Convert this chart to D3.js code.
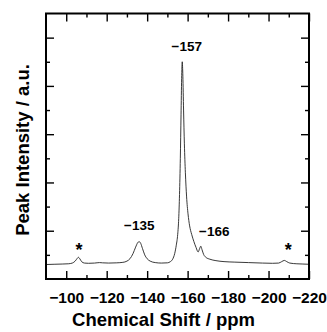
<head>
    <meta charset="utf-8">
    <script src="https://d3js.org/d3.v7.min.js"></script>
    <style>
        body {
            margin: 0;
            background: #fff;
        }
        svg text {
            font-family: "Liberation Sans", Arial, sans-serif;
            font-weight: bold;
            fill: #000;
        }
    </style>
</head>

<body>

<svg width="327" height="332"></svg>

<script>

    // spectrum: chemical shift (ppm) and intensity (a.u.)
    var shifts = [
        -90, -94, -98, -101, -103, -104.5, -105.4, -106, -106.7, -107.6,
        -109, -111, -114, -116.5, -118, -121, -125, -128, -130, -131.5,
        -133, -134.3, -135.3, -136, -136.8, -137.7, -138.8, -140, -141.5, -144,
        -147, -150, -151.5, -152.6, -153.6, -154.4, -155.1, -155.6, -156.0, -156.4,
        -156.75, -157.05, -157.35, -157.65, -158.0, -158.4, -158.9, -159.5, -160.2, -161.0,
        -162.0, -163.1, -164.2, -165.2, -165.9, -166.5, -167.1, -167.9, -169, -171,
        -174, -178, -183, -190, -197, -202, -205, -206.5, -207.8, -209,
        -210.5, -214, -217, -220
    ];
    var intensity = [
        0.60, 0.61, 0.62, 0.63, 0.66, 0.75, 0.85, 0.90, 0.84, 0.72,
        0.66, 0.65, 0.66, 0.68, 0.67, 0.66, 0.67, 0.69, 0.74, 0.84,
        1.05, 1.32, 1.50, 1.55, 1.48, 1.26, 1.00, 0.84, 0.74, 0.68,
        0.66, 0.67, 0.72, 0.82, 1.05, 1.40, 1.85, 2.50, 3.50, 5.00,
        6.80, 8.30, 9.00, 8.40, 7.00, 5.60, 4.40, 3.40, 2.70, 2.20,
        1.85, 1.55, 1.30, 1.12, 1.25, 1.36, 1.22, 1.02, 0.90, 0.82,
        0.76, 0.72, 0.70, 0.68, 0.66, 0.65, 0.66, 0.72, 0.77, 0.72,
        0.66, 0.63, 0.62, 0.61
    ];

    var xMajor = [-100, -120, -140, -160, -180, -200, -220];
    var xMinor = [-110, -130, -150, -170, -190, -210];
    var yMajor = [2, 4, 6, 8, 10];
    var yMinor = [1, 3, 5, 7, 9];

    // peak annotations (text, shift, intensity where the label sits)
    var noteText = ["\u2212157", "\u2212135", "\u2212166", "*", "*"];
    var noteShift = [-159.6, -136.1, -173.2, -106.3, -209.8];
    var noteLevel = [9.46, 2.02, 1.80, 0.95, 0.95];

    var data = shifts.map((s, i) => ({shift: s, value: intensity[i]}));

    var svg = d3.select("svg"),
        margin = {top: 13.5, right: 18, bottom: 53, left: 46},
        width = +svg.attr("width"),
        height = +svg.attr("height");

    var x = d3.scaleLinear()
        .domain([-90, -220])
        .range([margin.left, width - margin.right]);

    var y = d3.scaleLinear()
        .domain([0, 11])
        .range([height - margin.bottom, margin.top]);

    var x0 = x.range()[0], x1 = x.range()[1],
        y0 = y.range()[0], y1 = y.range()[1];

    //
    // ticks, all pointing inward
    //

    function ticks(axis, transform, values, size, labels) {
        var g = svg.append("g")
            .attr("transform", transform)
            .call(axis.tickValues(values).tickSize(-size)
                .tickPadding(13)
                .tickFormat(labels ? d3.format("d") : ""));
        g.select(".domain").remove();
        g.selectAll("line").attr("stroke", "#000").attr("stroke-width", 1.4);
        g.selectAll("text").style("font-size", "15.5px");
        return g;
    }

    ticks(d3.axisBottom(x), "translate(0," + y0 + ")", xMajor, 8, true);
    ticks(d3.axisBottom(x), "translate(0," + y0 + ")", xMinor, 4, false);
    ticks(d3.axisTop(x), "translate(0," + y1 + ")", xMajor, 8, false);
    ticks(d3.axisTop(x), "translate(0," + y1 + ")", xMinor, 4, false);
    ticks(d3.axisLeft(y), "translate(" + x0 + ",0)", yMajor, 8, false);
    ticks(d3.axisLeft(y), "translate(" + x0 + ",0)", yMinor, 4, false);
    ticks(d3.axisRight(y), "translate(" + x1 + ",0)", yMajor, 8, false);
    ticks(d3.axisRight(y), "translate(" + x1 + ",0)", yMinor, 4, false);

    //
    // spectrum
    //

    var line = d3.line()
        .x(d => x(d.shift))
        .y(d => y(d.value))
        .curve(d3.curveMonotoneX);

    svg.append("path")
        .datum(data)
        .attr("fill", "none")
        .attr("stroke", "#222")
        .attr("stroke-width", 0.9)
        .attr("d", line);

    svg.append("rect")
        .attr("x", x0)
        .attr("y", y1)
        .attr("width", x1 - x0)
        .attr("height", y0 - y1)
        .attr("fill", "none")
        .attr("stroke", "#000")
        .attr("stroke-width", 2);

    //
    // peak labels
    //

    svg.selectAll(".note")
        .data(noteText)
        .enter().append("text")
        .attr("class", "note")
        .attr("x", (d, i) => x(noteShift[i]))
        .attr("y", (d, i) => y(noteLevel[i]))
        .attr("text-anchor", "middle")
        .style("font-size", d => d == "*" ? "18px" : "13.5px")
        .text(d => d);

    //
    // axis titles
    //

    svg.append("text")
        .attr("x", width / 2)
        .attr("y", 326)
        .attr("text-anchor", "middle")
        .style("font-size", "18.5px")
        .text("Chemical Shift / ppm");

    svg.append("text")
        .attr("transform", "translate(29," + 150 + ") rotate(-90)")
        .attr("text-anchor", "middle")
        .style("font-size", "18.5px")
        .text("Peak Intensity / a.u.");

</script>
</body>
